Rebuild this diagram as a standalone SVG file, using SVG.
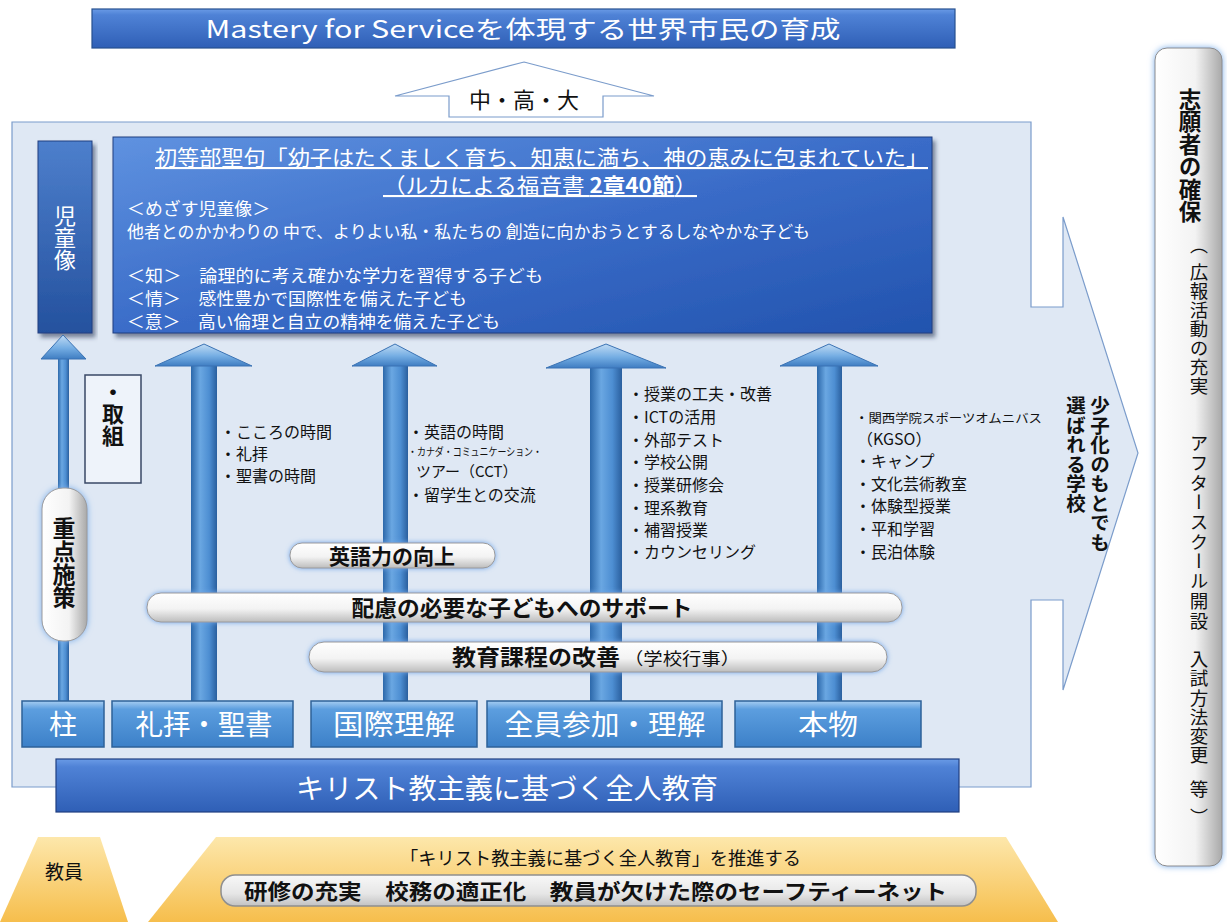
<svg xmlns="http://www.w3.org/2000/svg" width="1227" height="922" viewBox="0 0 1227 922">
<defs>
  <linearGradient id="gBar" x1="0" y1="0" x2="0" y2="1">
    <stop offset="0" stop-color="#6a9be6"/><stop offset="0.15" stop-color="#4f82d6"/><stop offset="1" stop-color="#2f5fb6"/>
  </linearGradient>
  <linearGradient id="gBig" x1="0" y1="0" x2="1" y2="1">
    <stop offset="0" stop-color="#5f92e0"/><stop offset="0.5" stop-color="#3a6cc8"/><stop offset="1" stop-color="#2253ae"/>
  </linearGradient>
  <linearGradient id="gDark" x1="0" y1="0" x2="0" y2="1">
    <stop offset="0" stop-color="#4d7fcc"/><stop offset="1" stop-color="#24519e"/>
  </linearGradient>
  <linearGradient id="gLabel" x1="0" y1="0" x2="0" y2="1">
    <stop offset="0" stop-color="#a6cdf2"/><stop offset="0.18" stop-color="#5c9edf"/><stop offset="1" stop-color="#3c80c8"/>
  </linearGradient>
  <linearGradient id="gShaft" x1="0" y1="0" x2="1" y2="0">
    <stop offset="0" stop-color="#2c68aa"/><stop offset="0.35" stop-color="#6aa7e2"/><stop offset="0.7" stop-color="#4d8ed2"/><stop offset="1" stop-color="#2a5f9e"/>
  </linearGradient>
  <linearGradient id="gHead" x1="0" y1="0" x2="0" y2="1">
    <stop offset="0" stop-color="#c0dbf4"/><stop offset="0.55" stop-color="#74ade3"/><stop offset="1" stop-color="#3f7dc2"/>
  </linearGradient>
  <linearGradient id="gPill" x1="0" y1="0" x2="0" y2="1">
    <stop offset="0" stop-color="#ffffff"/><stop offset="0.55" stop-color="#f3f3f3"/><stop offset="1" stop-color="#bdbdbd"/>
  </linearGradient>
  <linearGradient id="gPillV" x1="0" y1="0" x2="1" y2="0">
    <stop offset="0" stop-color="#ffffff"/><stop offset="0.6" stop-color="#f3f3f3"/><stop offset="1" stop-color="#a9a9a9"/>
  </linearGradient>
  <linearGradient id="gGold" x1="0" y1="0" x2="0" y2="1">
    <stop offset="0" stop-color="#fde7ab"/><stop offset="1" stop-color="#f6be4c"/>
  </linearGradient>
  <linearGradient id="gGray" x1="0" y1="0" x2="0" y2="1">
    <stop offset="0" stop-color="#f8f8f8"/><stop offset="0.6" stop-color="#e6e6e6"/><stop offset="1" stop-color="#c2c2c2"/>
  </linearGradient>
  <filter id="shadow" x="-5%" y="-10%" width="115%" height="130%">
    <feDropShadow dx="3" dy="4" stdDeviation="2" flood-color="#1b2d4f" flood-opacity="0.55"/>
  </filter>
  <filter id="glow" x="-30%" y="-60%" width="160%" height="220%">
    <feDropShadow dx="0" dy="0" stdDeviation="2.5" flood-color="#6fa5e8" flood-opacity="1"/>
  </filter>
  <filter id="glowV" x="-30%" y="-5%" width="160%" height="110%">
    <feDropShadow dx="0" dy="0" stdDeviation="3" flood-color="#7aaeea" flood-opacity="1"/>
  </filter>
</defs>
<style>
  text{font-family:"Noto Sans CJK JP","Noto Sans",sans-serif}
  .w{fill:#ffffff}
  .k{fill:#111111}
  .b{font-weight:bold}
  .v{writing-mode:vertical-rl}
  .lst{font-size:16px;fill:#111}
  .lbl{fill:url(#gLabel);stroke:#2e6198;stroke-width:1.5}
  .lbt{font-size:28px;fill:#fff;text-anchor:middle}
  .pill{fill:url(#gPill);stroke:#9a9a9a;stroke-width:1;filter:url(#glow)}
  .shaft{fill:url(#gShaft)}
  .head{fill:url(#gHead);stroke:#3b73b4;stroke-width:1}
</style>

<!-- background arrow panel -->
<g id="panel">
  <path d="M12,122 H1031 V307 H1063 V217 L1138,453 L1063,690 V600 H1031 V787 H12 Z" fill="#dfe8f4" stroke="#7b9ccb" stroke-width="1.2"/>
</g>

<g id="goal">
  <rect x="92" y="9" width="863" height="39" fill="url(#gBar)" stroke="#27508f" stroke-width="1.2"/>
  <text x="523" y="38" class="w" font-size="24" text-anchor="middle" textLength="635" lengthAdjust="spacingAndGlyphs">Mastery  for  Serviceを体現する世界市民の育成</text>
</g>

<g id="upper-school">
  <polygon points="524,62 654,96 603,96 603,117 449,117 449,96 395,96" fill="#ffffff" stroke="#7b9ccb" stroke-width="1.2"/>
  <text x="524" y="108" class="k" font-size="22" text-anchor="middle">中・高・大</text>
</g>

<g id="motto">
  <rect x="113" y="137" width="819" height="196" fill="url(#gBig)" stroke="#1f3f80" stroke-width="1" filter="url(#shadow)"/>
  <text x="155" y="165" class="w" font-size="21" text-decoration="underline" textLength="773" lengthAdjust="spacingAndGlyphs">初等部聖句「幼子はたくましく育ち、知恵に満ち、神の恵みに包まれていた」</text>
  <text x="383" y="193" class="w" font-size="21" text-decoration="underline" textLength="314" lengthAdjust="spacingAndGlyphs">（ルカによる福音書 <tspan class="b">2章40節</tspan>）</text>
  <text x="127" y="215" class="w" font-size="16.5" textLength="143" lengthAdjust="spacingAndGlyphs">＜めざす児童像＞</text>
  <text x="127" y="238" class="w" font-size="16.5" textLength="683" lengthAdjust="spacingAndGlyphs">他者とのかかわりの 中で、よりよい私・私たちの 創造に向かおうとするしなやかな子ども</text>
  <text x="127" y="282" class="w" font-size="16.5" textLength="416" lengthAdjust="spacingAndGlyphs">＜知＞　論理的に考え確かな学力を習得する子ども</text>
  <text x="127" y="305" class="w" font-size="16.5" textLength="340" lengthAdjust="spacingAndGlyphs">＜情＞　感性豊かで国際性を備えた子ども</text>
  <text x="127" y="328" class="w" font-size="16.5" textLength="373" lengthAdjust="spacingAndGlyphs">＜意＞　高い倫理と自立の精神を備えた子ども</text>
</g>

<g id="child-image">
  <rect x="38" y="141" width="54" height="192" fill="url(#gDark)" stroke="#1f3f80" stroke-width="1" filter="url(#shadow)"/>
  <text x="65" y="205" class="w v" font-size="22">児童像</text>
</g>

<g id="connectors">
  <g id="arrow-pillar">
    <rect class="shaft" x="58" y="355" width="11" height="350"/>
    <polygon class="head" points="63,335 86,359 41,359"/>
  </g>
  <g id="arrow-worship">
    <rect class="shaft" x="191" y="362" width="26" height="343"/>
    <polygon class="head" points="204,344 252,366 155,366"/>
  </g>
  <g id="arrow-intl">
    <rect class="shaft" x="383" y="362" width="25" height="343"/>
    <polygon class="head" points="395,344 437,366 352,366"/>
  </g>
  <g id="arrow-all">
    <rect class="shaft" x="590" y="364" width="32" height="341"/>
    <polygon class="head" points="606,344 666,368 546,368"/>
  </g>
  <g id="arrow-real">
    <rect class="shaft" x="817" y="362" width="25" height="343"/>
    <polygon class="head" points="829,344 878,366 780,366"/>
  </g>
</g>

<g id="torikumi">
  <rect x="85" y="375" width="56" height="108" fill="#eef3fa" stroke="#3a4866" stroke-width="1.5"/>
  <text x="113" y="381" class="k b v" font-size="22">・取組</text>
</g>

<g id="juten">
  <rect x="42" y="488" width="45" height="153" rx="21" fill="url(#gPillV)" stroke="#9a9a9a" stroke-width="1" filter="url(#glowV)"/>
  <text x="64" y="517" class="k b v" font-size="23">重点施策</text>
</g>

<g id="list-worship">
  <text x="220" y="438" class="lst">・こころの時間</text>
  <text x="220" y="460" class="lst">・礼拝</text>
  <text x="220" y="482" class="lst">・聖書の時間</text>
</g>

<g id="list-intl">
  <text x="408" y="438" class="lst">・英語の時間</text>
  <text x="408" y="456" font-size="11" class="k" textLength="134" lengthAdjust="spacingAndGlyphs">・カナダ・コミュニケーション・</text>
  <text x="416" y="477" font-size="15" class="k">ツアー（CCT）</text>
  <text x="408" y="501" class="lst">・留学生との交流</text>
</g>

<g id="list-all">
  <text x="628" y="400" class="lst">・授業の工夫・改善</text>
  <text x="628" y="423" class="lst">・ICTの活用</text>
  <text x="628" y="446" class="lst">・外部テスト</text>
  <text x="628" y="468" class="lst">・学校公開</text>
  <text x="628" y="491" class="lst">・授業研修会</text>
  <text x="628" y="514" class="lst">・理系教育</text>
  <text x="628" y="536" class="lst">・補習授業</text>
  <text x="628" y="558" class="lst">・カウンセリング</text>
</g>

<g id="list-real">
  <text x="855" y="423" font-size="12.5" class="k" textLength="187" lengthAdjust="spacingAndGlyphs">・関西学院スポーツオムニバス</text>
  <text x="857" y="445" class="lst">（KGSO）</text>
  <text x="855" y="467" class="lst">・キャンプ</text>
  <text x="855" y="490" class="lst">・文化芸術教室</text>
  <text x="855" y="512" class="lst">・体験型授業</text>
  <text x="855" y="535" class="lst">・平和学習</text>
  <text x="855" y="558" class="lst">・民泊体験</text>
</g>

<g id="chosen-school">
  <text x="1100" y="396" class="k b v" font-size="19.5">少子化のもとでも</text>
  <text x="1076" y="396" class="k b v" font-size="19.5">選ばれる学校</text>
</g>

<g id="pill-english">
  <rect class="pill" x="290" y="543" width="205" height="25" rx="12"/>
  <text x="392" y="564" class="k b" font-size="21" text-anchor="middle">英語力の向上</text>
</g>

<g id="pill-support">
  <rect class="pill" x="147" y="593" width="755" height="29" rx="14"/>
  <text x="522" y="616" class="k b" font-size="22" text-anchor="middle" textLength="341" lengthAdjust="spacingAndGlyphs">配慮の必要な子どもへのサポート</text>
</g>

<g id="pill-curriculum">
  <rect class="pill" x="309" y="642" width="578" height="30" rx="15"/>
  <text x="452" y="665" class="k b" font-size="22" textLength="168" lengthAdjust="spacingAndGlyphs">教育課程の改善</text>
  <text x="624" y="665" class="k" font-size="17" textLength="116" lengthAdjust="spacingAndGlyphs">（学校行事）</text>
</g>

<g id="pillars">
  <g id="p-hashira"><rect class="lbl" x="22" y="701" width="82" height="46"/><text class="lbt" x="63" y="735">柱</text></g>
  <g id="p-worship"><rect class="lbl" x="112" y="701" width="181" height="46"/><text class="lbt" x="204" y="735" textLength="137" lengthAdjust="spacingAndGlyphs">礼拝・聖書</text></g>
  <g id="p-intl"><rect class="lbl" x="311" y="701" width="166" height="46"/><text class="lbt" x="394" y="735" textLength="122" lengthAdjust="spacingAndGlyphs">国際理解</text></g>
  <g id="p-all"><rect class="lbl" x="487" y="701" width="235" height="46"/><text class="lbt" x="605" y="735" textLength="201" lengthAdjust="spacingAndGlyphs">全員参加・理解</text></g>
  <g id="p-real"><rect class="lbl" x="735" y="701" width="186" height="46"/><text class="lbt" x="828" y="735" textLength="60" lengthAdjust="spacingAndGlyphs">本物</text></g>
</g>

<g id="foundation">
  <rect x="56" y="759" width="903" height="53" fill="url(#gBar)" stroke="#203f80" stroke-width="1.2"/>
  <text x="507" y="799" class="w" font-size="28" text-anchor="middle" textLength="422" lengthAdjust="spacingAndGlyphs">キリスト教主義に基づく全人教育</text>
</g>

<g id="applicants">
  <rect x="1155" y="48" width="67" height="818" rx="12" fill="url(#gPillV)" stroke="#8c8c8c" stroke-width="1" filter="url(#glowV)"/>
  <text x="1190" y="88" class="k b v" font-size="22.5">志願者の確保</text>
  <text x="1199" y="236" class="k v" font-size="18">（</text>
  <text x="1199" y="263" class="k v" font-size="18.5" letter-spacing="0.5">広報活動の充実</text>
  <text x="1199" y="434" class="k v" font-size="18.5" letter-spacing="1.2">アフタースクール開設</text>
  <text x="1199" y="650" class="k v" font-size="18.5" letter-spacing="0.7">入試方法変更</text>
  <text x="1199" y="780" class="k v" font-size="18.5">等</text>
  <text x="1199" y="808" class="k v" font-size="18">）</text>
</g>

<g id="teachers">
  <polygon points="38,837 100,837 128,922 0,922" fill="url(#gGold)"/>
  <text x="64" y="879" class="k" font-size="19" text-anchor="middle">教員</text>
</g>

<g id="teacher-promotion">
  <polygon points="216,837 1006,837 1058,922 148,922" fill="url(#gGold)"/>
  <text x="400" y="865" class="k" font-size="18" textLength="401" lengthAdjust="spacingAndGlyphs">「キリスト教主義に基づく全人教育」を推進する</text>
  <rect x="221" y="875" width="755" height="31" rx="14" fill="url(#gGray)" stroke="#8f8f8f" stroke-width="1.5"/>
  <text x="244" y="899" class="k b" font-size="21" textLength="703" lengthAdjust="spacingAndGlyphs">研修の充実　校務の適正化　教員が欠けた際のセーフティーネット</text>
</g>
</svg>
